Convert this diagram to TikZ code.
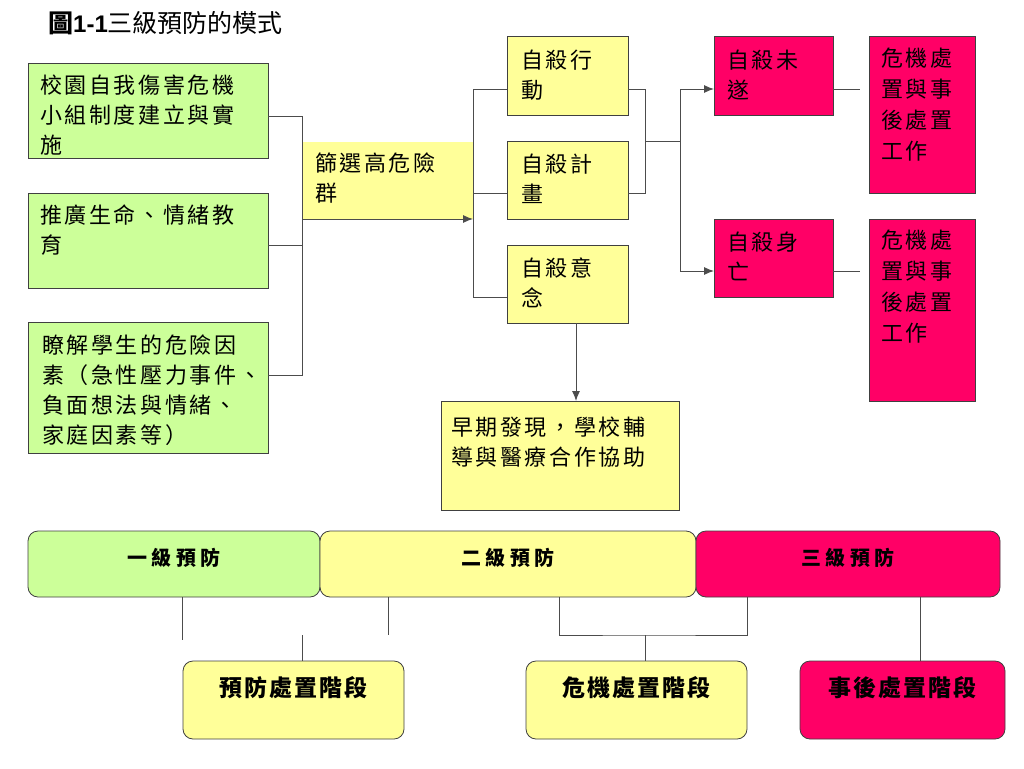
\documentclass[tikz,border=0pt]{standalone}
\usepackage{fontspec}
\setmainfont{Noto Sans CJK TC}
\newfontfamily\latinb{Liberation Sans}
\newfontfamily\cjkbox{Noto Sans CJK TC}[LetterSpace=12]
\newfontfamily\cjklbl{Noto Sans CJK TC}[LetterSpace=22]
\newfontfamily\cjklblb{Noto Sans CJK TC}[LetterSpace=9]
\usetikzlibrary{arrows.meta}
\definecolor{cgreen}{HTML}{CCFF99}
\definecolor{cyellow}{HTML}{FFFF99}
\definecolor{cpink}{HTML}{FF0066}
\newcommand{\boxfont}{\cjkbox\fontsize{22}{30}\selectfont}
\newcommand{\boxfontc}{\cjkbox\fontsize{22}{31}\selectfont}
\newcommand{\lblfont}{\cjklbl\bfseries\fontsize{20}{24}\selectfont}
\newcommand{\lblfontb}{\cjklblb\bfseries\fontsize{23}{26}\selectfont}
\tikzset{
  box/.style={draw=black!75, line width=1pt, inner sep=0pt, outer sep=0pt, anchor=north west},
  gbox/.style={box, fill=cgreen},
  ybox/.style={box, fill=cyellow},
  pbox/.style={box, fill=cpink},
  txt/.style={anchor=north west, inner sep=0pt, outer sep=0pt, align=left, font=\boxfont},
  txtc/.style={txt, font=\boxfontc},
  conn/.style={draw=black!70, line width=1pt},
  arr/.style={conn, -{Latex[length=10pt,width=8pt]}},
  rbox/.style={draw=black!75, line width=0.8pt, rounded corners=10pt, inner sep=0pt, outer sep=0pt, anchor=north west},
  lbl/.style={inner sep=0pt, anchor=center, font=\lblfont},
  lblb/.style={inner sep=0pt, anchor=center, font=\lblfontb}
}
\begin{document}
\begin{tikzpicture}[x=1pt, y=-1pt]
\fill[white] (0,0) rectangle (1024,768);
\useasboundingbox (0,0) rectangle (1024,768);

% title
\node[anchor=west, inner sep=0pt, font=\fontsize{25}{30}\selectfont] (title) at (48,23)
  {{\bfseries 圖}{\latinb\bfseries\fontsize{24}{30}\selectfont 1-1}三級預防的模式};

% left green boxes
\node[gbox, minimum width=240pt, minimum height=95pt] (g1) at (28,63) {};
\node[gbox, minimum width=240pt, minimum height=95pt] (g2) at (28,193) {};
\node[gbox, minimum width=240pt, minimum height=131pt] (g3) at (28,322) {};
\node[txt] (g1t) at ([shift={(12,12)}]g1.north west) {校園自我傷害危機\\小組制度建立與實\\施};
\node[txt] (g2t) at ([shift={(12,12)}]g2.north west) {推廣生命、情緒教\\育};
\node[txt] (g3t) at ([shift={(14,13)}]g3.north west) {瞭解學生的危險因\\素（急性壓力事件、\\負面想法與情緒、\\家庭因素等）};

% screening box (no border)
\node[box, draw=none, fill=cyellow, minimum width=171pt, minimum height=77pt] (sx) at (302,142) {};
\node[txt] (sxt) at ([shift={(13,11)}]sx.north west) {篩選高危險\\群};

% suicide stage boxes
\node[ybox, minimum width=121pt, minimum height=78pt] (a1) at (507,37) {};
\node[ybox, minimum width=121pt, minimum height=78pt] (a2) at (507,141) {};
\node[ybox, minimum width=121pt, minimum height=78pt] (a3) at (507,245) {};
\node[txt] (a1t) at ([shift={(14,13)}]a1.north west) {自殺行\\動};
\node[txt] (a2t) at ([shift={(14,13)}]a2.north west) {自殺計\\畫};
\node[txt] (a3t) at ([shift={(14,13)}]a3.north west) {自殺意\\念};

% outcome boxes
\node[pbox, minimum width=119pt, minimum height=78pt] (r1) at (714,37) {};
\node[pbox, minimum width=119pt, minimum height=78pt] (r2) at (714,219) {};
\node[txt] (r1t) at ([shift={(13,13)}]r1.north west) {自殺未\\遂};
\node[txt] (r2t) at ([shift={(13,13)}]r2.north west) {自殺身\\亡};

\node[pbox, minimum width=106pt, minimum height=156pt] (c1) at (869,37) {};
\node[pbox, minimum width=106pt, minimum height=182pt] (c2) at (869,219) {};
\node[txtc] (c1t) at ([shift={(12,11)}]c1.north west) {危機處\\置與事\\後處置\\工作};
\node[txtc] (c2t) at ([shift={(12,11)}]c2.north west) {危機處\\置與事\\後處置\\工作};

% early detection box
\node[ybox, minimum width=238pt, minimum height=109pt] (e) at (441,401) {};
\node[txt] (et) at ([shift={(10,16)}]e.north west) {早期發現，學校輔\\導與醫療合作協助};

% connectors (upper part)
\draw[conn] (g1.east |- 0,116) -| (sx.west |- 0,375) -- (g3.east |- 0,375);
\draw[conn] (g2.east |- 0,245) -- (sx.west |- 0,245);
\draw[arr] (sx.south west) -- (sx.south east);
\draw[conn] (a1.west |- 0,89) -- (sx.east |- 0,89) -- (sx.east |- 0,297) -- (a3.west |- 0,297);
\draw[conn] (sx.east |- 0,193) -- (a2.west |- 0,193);
\coordinate (j1) at (645,141);
\coordinate (jr) at (680,141);
\draw[conn] (a1.east |- 0,89) -- (j1 |- 0,89) -- (j1 |- 0,193) -- (a2.east |- 0,193);
\draw[conn] (j1) -- (jr);
\draw[arr] (jr) |- (r1.west |- 0,89);
\draw[arr] (jr) |- (r2.west |- 0,271);
\draw[conn, shorten >=9pt] (r1.east |- 0,89) -- (c1.west |- 0,89);
\draw[conn, shorten >=9pt] (r2.east |- 0,271) -- (c2.west |- 0,271);
\draw[arr] (576,0 |- a3.south) -- (576,0 |- e.north);

% prevention levels
\node[rbox, fill=cgreen, minimum width=292pt, minimum height=66pt] (p1) at (28,531) {};
\node[rbox, fill=cyellow, minimum width=376pt, minimum height=66pt] (p2) at (320,531) {};
\node[rbox, fill=cpink, minimum width=304pt, minimum height=66pt] (p3) at (696,531) {};
\node[lbl] (p1t) at (p1.center |- 0,558) {一級預防};
\node[lbl] (p2t) at (p2.center |- 0,558) {二級預防};
\node[lbl] (p3t) at (p3.center |- 0,558) {三級預防};

\node[rbox, fill=cyellow, minimum width=221pt, minimum height=78pt] (s1) at (183,661) {};
\node[rbox, fill=cyellow, minimum width=221pt, minimum height=78pt] (s2) at (526,661) {};
\node[rbox, fill=cpink, minimum width=205pt, minimum height=78pt] (s3) at (800,661) {};
\node[lblb] (s1t) at (s1.center |- 0,688) {預防處置階段};
\node[lblb] (s2t) at (s2.center |- 0,688) {危機處置階段};
\node[lblb] (s3t) at (s3.center |- 0,688) {事後處置階段};

% connectors (lower part)
\coordinate (f1) at (182,640);
\coordinate (f2) at (388,635);
\coordinate (f3) at (302,635);
\coordinate (jb) at (645,635);
\draw[conn, line width=0.8pt] (f1 |- p1.south) -- (f1);
\draw[conn, line width=0.8pt] (f2 |- p2.south) -- (f2);
\draw[conn, line width=0.8pt] (f3) -- (f3 |- s1.north);
\draw[conn, line width=0.8pt] (559,0 |- p2.south) |- (jb) -| (747,0 |- p3.south);
\draw[conn, line width=0.8pt] (jb) -- (jb |- s2.north);
\draw[conn, line width=0.8pt] (920,0 |- p3.south) -- (920,0 |- s3.north);
\end{tikzpicture}
\end{document}
